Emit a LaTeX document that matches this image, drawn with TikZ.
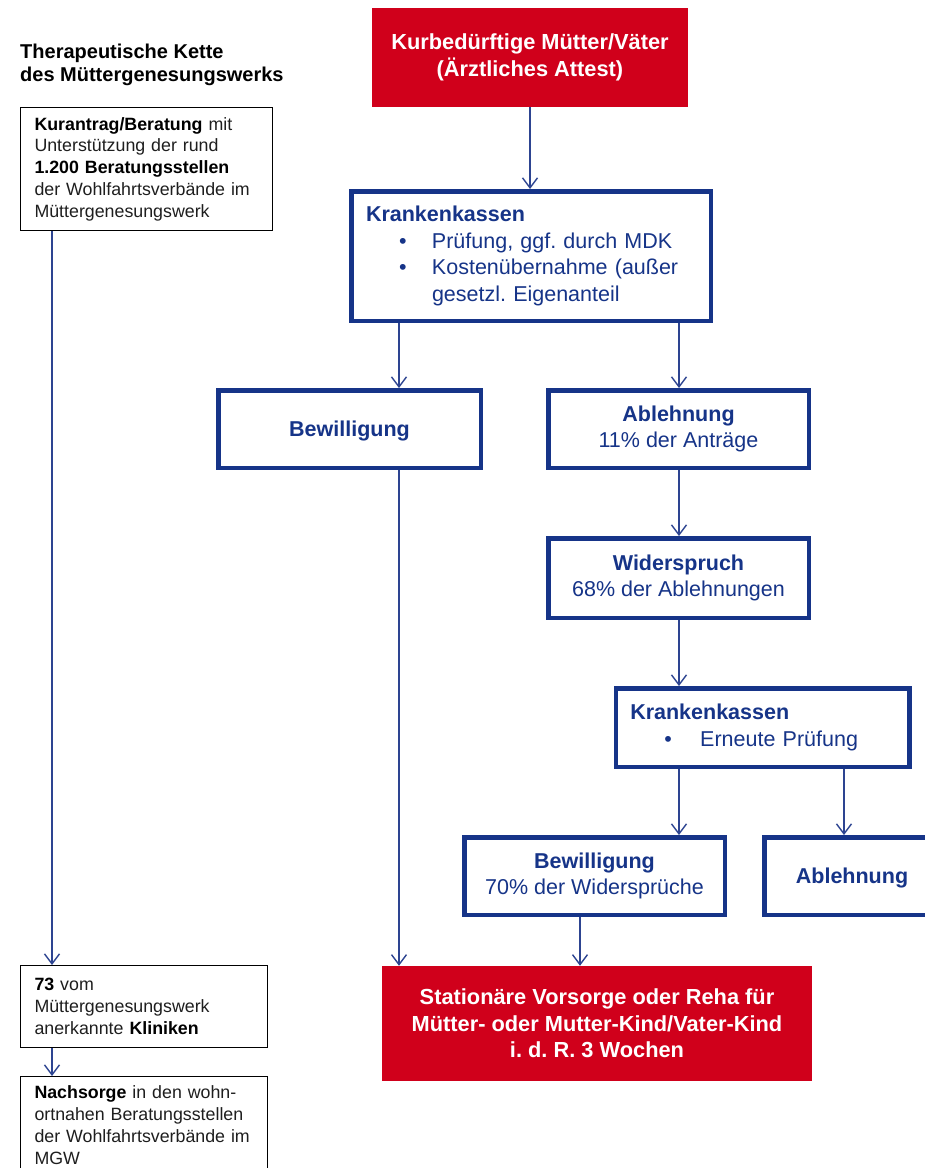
\documentclass[tikz,border=0pt]{standalone}
\usepackage{fontspec}
\setmainfont{Liberation Sans}
\frenchspacing
\usetikzlibrary{arrows.meta}
\definecolor{mgwred}{RGB}{208,0,27}
\definecolor{mgwblue}{RGB}{22,52,136}
\definecolor{mgwline}{RGB}{45,68,145}
\definecolor{mgwtext}{RGB}{30,30,30}
\newcommand{\kastenschrift}{\fontsize{21.5}{26.5}\selectfont}
\newcommand{\randschrift}{\fontsize{17.8}{21.8}\selectfont}
\tikzset{
  kasse/.style={draw=mgwblue, line width=4.5pt, fill=white, text=mgwblue, font=\kastenschrift, align=center, inner sep=0pt},
  rotkasten/.style={fill=mgwred, text=white, font=\fontsize{21.8}{26.5}\selectfont\bfseries, align=center, inner sep=0pt},
  randkasten/.style={draw=black, line width=1.3pt, text=mgwtext, font=\randschrift, align=left, inner xsep=13.85pt, inner ysep=0pt},
  pfeil/.style={draw=mgwline, line width=1.4pt, -{Straight Barb[length=10pt,width=15pt]}},
}
\begin{document}
\begin{tikzpicture}[x=1pt,y=-1pt]
\pgfmathsetmacro{\bw}{260.5}
\pgfmathsetmacro{\bh}{77.5}
\useasboundingbox (0,0) rectangle (925,1168);
\node[anchor=north west, inner sep=0pt, align=left, font=\fontsize{20}{23}\selectfont\bfseries] (titel) at (20,44) {Therapeutische Kette\\des Müttergenesungswerks};
\node[randkasten, text width=224pt, minimum height=122.7pt] (info1) at (146.5,169) {\textbf{\color{black}Kurantrag/Beratung} mit\\Unterstützung der rund\\\textbf{\color{black}1.200 Beratungsstellen}\\der Wohlfahrtsverbände im\\Müttergenesungswerk};
\node[randkasten, text width=219pt, minimum height=81.7pt] (info2) at (144,1006.5) {\textbf{\color{black}73} vom\\Müttergenesungswerk\\anerkannte \textbf{\color{black}Kliniken}};
\node[randkasten, text width=219pt, minimum height=96.7pt] (info3) at (144,1125) {\textbf{\color{black}Nachsorge} in den wohn-\\ortnahen Beratungsstellen\\der Wohlfahrtsverbände im\\MGW};
\node[rotkasten, minimum width=316pt, minimum height=99pt] (rot1) at (530,57.5) {Kurbedürftige Mütter/Väter\\(Ärztliches Attest)};
\node[kasse, align=left, text width=330pt, inner xsep=14.75pt, minimum height=129.5pt] (kk1) at (531,256) {\textbf{Krankenkassen}\\\hspace*{33pt}\makebox[33pt][l]{\textbullet}Prüfung, ggf. durch MDK\\\hspace*{33pt}\makebox[33pt][l]{\textbullet}Kostenübernahme (außer\\\hspace*{66pt}gesetzl. Eigenanteil};
\node[kasse, text depth=0pt, minimum width=262.5pt, minimum height=\bh pt] (bew1) at (349.5,429) {\textbf{Bewilligung}};
\node[kasse, minimum width=\bw pt, minimum height=\bh pt] (abl1) at (678.5,429) {\textbf{Ablehnung}\\11\% der Anträge};
\node[kasse, minimum width=\bw pt, minimum height=79.5pt] (wid) at (678.5,578) {\textbf{Widerspruch}\\68\% der Ablehnungen};
\node[kasse, align=left, text width=264.5pt, inner xsep=14.5pt, minimum height=78.5pt] (kk2) at (762.5,727.5) {\textbf{Krankenkassen}\\\hspace*{34pt}\makebox[36pt][l]{\textbullet}Erneute Prüfung};
\node[kasse, minimum width=\bw pt, minimum height=\bh pt] (bew2) at (594.5,876) {\textbf{Bewilligung}\\70\% der Widersprüche};
\node[kasse, text depth=0pt, minimum width=175.5pt, minimum height=\bh pt] (abl2) at (852,876) {\textbf{Ablehnung}};
\node[rotkasten, minimum width=430pt, minimum height=115pt] (rot2) at (597,1023.5) {Stationäre Vorsorge oder Reha für\\Mütter- oder Mutter-Kind/Vater-Kind\\i. d. R. 3 Wochen};
\coordinate (sA) at (399,0);
\coordinate (sB) at (679,0);
\coordinate (sC) at (844,0);
\coordinate (sD) at (580,0);
\coordinate (sE) at (52,0);
\draw[pfeil] (rot1.south) -- (rot1.south |- kk1.north);
\draw[pfeil] (kk1.south -| sA) -- (bew1.north -| sA);
\draw[pfeil] (kk1.south -| sB) -- (abl1.north -| sB);
\draw[pfeil] (abl1.south -| sB) -- (wid.north -| sB);
\draw[pfeil] (wid.south -| sB) -- (kk2.north -| sB);
\draw[pfeil] (kk2.south -| sB) -- (bew2.north -| sB);
\draw[pfeil] (kk2.south -| sC) -- (abl2.north -| sC);
\draw[pfeil] (bew1.south -| sA) -- (rot2.north -| sA);
\draw[pfeil] (bew2.south -| sD) -- (rot2.north -| sD);
\draw[pfeil] (info1.south -| sE) -- (info2.north -| sE);
\draw[pfeil] (info2.south -| sE) -- (info3.north -| sE);
\end{tikzpicture}
\end{document}
